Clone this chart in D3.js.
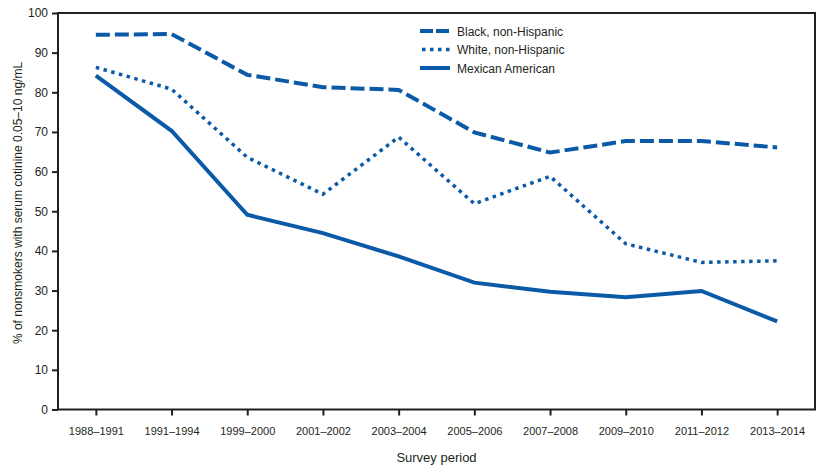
<!DOCTYPE html>
<html>
<head>
<meta charset="utf-8">
<script src="https://cdn.jsdelivr.net/npm/d3@7"></script>
<style>
  body { margin: 0; background: #fff; }
  text { font-family: "Liberation Sans", Arial, sans-serif; fill: #231f20; }
</style>
</head>
<body>
<div id="chart"></div>
<script>
var periods = ["1988–1991", "1991–1994", "1999–2000", "2001–2002", "2003–2004",
               "2005–2006", "2007–2008", "2009–2010", "2011–2012", "2013–2014"];
var black = [94.5, 94.7, 84.4, 81.3, 80.6, 69.9, 64.8, 67.7, 67.7, 66.1];
var white = [86.3, 80.8, 63.6, 54.3, 68.7, 51.9, 58.8, 41.8, 37.1, 37.5];
var mexican = [84.2, 70.3, 49.1, 44.5, 38.6, 32.0, 29.7, 28.3, 29.9, 22.2];
var yTicks = [0, 10, 20, 30, 40, 50, 60, 70, 80, 90, 100];
var seriesNames = ["Black, non-Hispanic", "White, non-Hispanic", "Mexican American"];

var width = 824, height = 470;
var margin = {top: 13, right: 9, bottom: 60.5, left: 58};
var blue = "#0a5aa8";
var dashes = ["14,5", "3.5,4.5", null];

var svg = d3.select("#chart").append("svg")
    .attr("width", width)
    .attr("height", height);

var x = d3.scalePoint()
    .domain(periods)
    .range([margin.left, width - margin.right])
    .padding(0.5);

var y = d3.scaleLinear()
    .domain([0, 100])
    .range([height - margin.bottom, margin.top]);

// frame
svg.append("rect")
    .attr("x", margin.left)
    .attr("y", margin.top)
    .attr("width", width - margin.right - margin.left)
    .attr("height", height - margin.bottom - margin.top)
    .attr("fill", "none")
    .attr("stroke", "#231f20")
    .attr("stroke-width", 2);

// y axis
var yAxis = svg.append("g")
    .attr("transform", "translate(" + margin.left + ",0)")
    .call(d3.axisLeft(y).tickValues(yTicks).tickSize(6).tickPadding(4));
yAxis.select(".domain").remove();
yAxis.selectAll("line").attr("stroke", "#231f20").attr("stroke-width", 2);
yAxis.selectAll("text").style("font-size", "12px");

// x axis
var xAxis = svg.append("g")
    .attr("transform", "translate(0," + (height - margin.bottom) + ")")
    .call(d3.axisBottom(x).tickSize(6).tickPadding(12));
xAxis.select(".domain").remove();
xAxis.selectAll("line").attr("stroke", "#231f20").attr("stroke-width", 2);
xAxis.selectAll("text").style("font-size", "11px");

// axis titles
svg.append("text")
    .attr("x", (margin.left + width - margin.right) / 2)
    .attr("y", 462)
    .attr("text-anchor", "middle")
    .style("font-size", "13px")
    .text("Survey period");

svg.append("text")
    .attr("transform", "translate(22,203) rotate(-90)")
    .attr("text-anchor", "middle")
    .style("font-size", "12px")
    .text("% of nonsmokers with serum cotinine 0.05–10 ng/mL");

// lines
var line = d3.line()
    .x((d, i) => x(periods[i]))
    .y(d => y(d));

[black, white, mexican].forEach(function(vals, k) {
  svg.append("path")
      .datum(vals)
      .attr("d", line)
      .attr("fill", "none")
      .attr("stroke", blue)
      .attr("stroke-width", k == 1 ? 3.5 : 4)
      .attr("stroke-dasharray", dashes[k]);
});

// legend
seriesNames.forEach(function(name, k) {
  var ly = 31 + k * 18.5;
  svg.append("line")
      .attr("x1", 420).attr("x2", 450)
      .attr("y1", ly).attr("y2", ly)
      .attr("stroke", blue)
      .attr("stroke-width", k == 1 ? 3.5 : 4)
      .attr("stroke-dasharray", k == 0 ? "13,3" : (k == 1 ? "3.5,4.5" : null))
      .attr("stroke-dashoffset", k == 1 ? -2 : 0);
  svg.append("text")
      .attr("x", 457)
      .attr("y", ly + 4.5)
      .style("font-size", "12px")
      .text(name);
});
</script>
</body>
</html>
